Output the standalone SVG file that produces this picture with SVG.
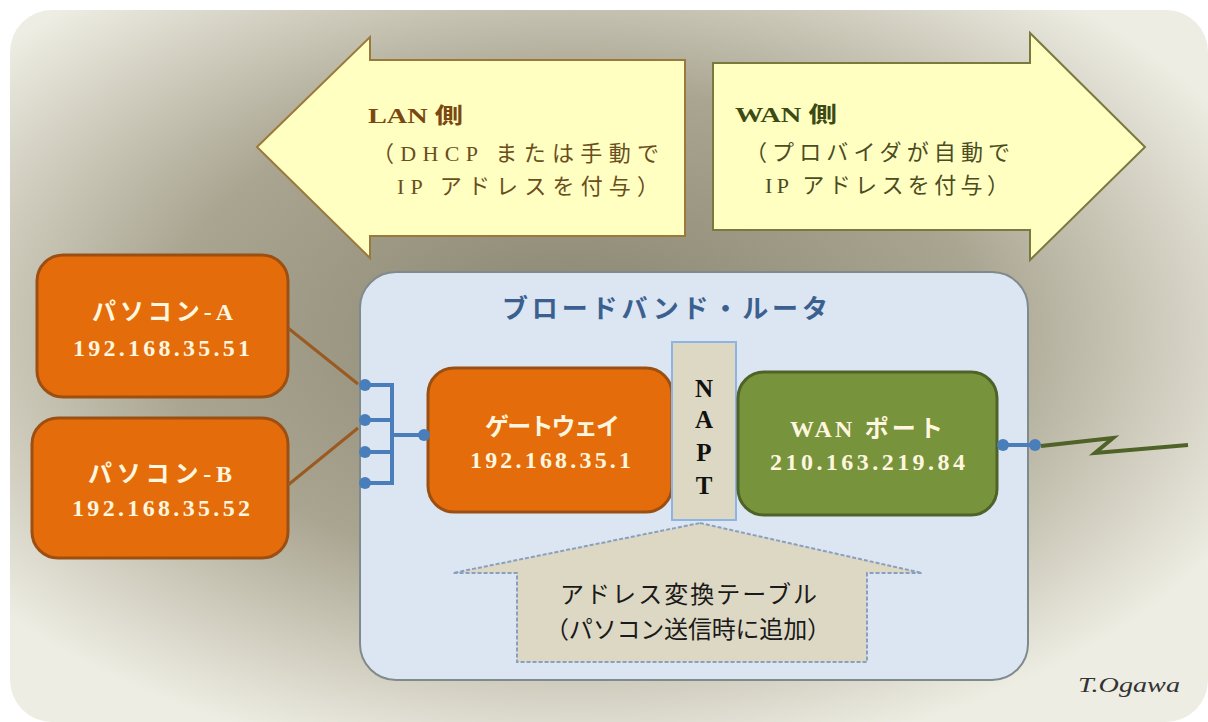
<svg xmlns="http://www.w3.org/2000/svg" width="1208" height="722" viewBox="0 0 1208 722">
<defs>
<radialGradient id="bg" cx="0.47" cy="0.45" r="0.62">
<stop offset="0" stop-color="#8b8672"/>
<stop offset="0.55" stop-color="#aaa591"/>
<stop offset="1" stop-color="#eeede3"/>
</radialGradient>
<style>
.jp{font-family:"Liberation Serif","Noto Sans CJK JP",serif;}
.box-or{fill:#e46c0a;stroke:#9c4f12;stroke-width:3;}
.box-gr{fill:#77933c;stroke:#4f6228;stroke-width:3;}
.wt{fill:#fff6df;font-weight:bold;font-size:24px;text-anchor:start;}
.blue{stroke:#4a7ebb;stroke-width:4;fill:none;}
.dot{fill:#4a7ebb;}
.brown{stroke:#9a5a20;stroke-width:3;fill:none;}
.napt{font-family:"Liberation Serif",serif;font-weight:bold;font-size:25px;fill:#111;text-anchor:middle;}
</style>
</defs>
<rect x="0" y="0" width="1208" height="722" fill="#ffffff"/>
<rect x="10" y="10" width="1198" height="712" rx="42" fill="url(#bg)"/>

<g id="lan-arrow">
<path d="M257,147 L370,37 L370,60 L685,60 L685,236 L370,236 L370,258 Z" fill="#ffffc2" stroke="#9a7a3c" stroke-width="2"/>
<text class="jp" x="368" y="123" font-size="22" font-weight="bold" fill="#7a4810" textLength="95" lengthAdjust="spacingAndGlyphs">LAN 側</text>
<text class="jp" x="372" y="161" font-size="22" fill="#6b4e1e" textLength="287" lengthAdjust="spacing">（DHCP または手動で</text>
<text class="jp" x="397" y="194" font-size="22" fill="#6b4e1e" textLength="262" lengthAdjust="spacing">IP アドレスを付与）</text>
</g>

<g id="wan-arrow">
<path d="M1145,147 L1030,33 L1030,63 L713,63 L713,230 L1030,230 L1030,260 Z" fill="#ffffc2" stroke="#7a7a40" stroke-width="2"/>
<text class="jp" x="735" y="122" font-size="22" font-weight="bold" fill="#3d4a14" textLength="102" lengthAdjust="spacingAndGlyphs">WAN 側</text>
<text class="jp" x="745" y="160" font-size="22" fill="#4c4c22" textLength="265" lengthAdjust="spacing">（プロバイダが自動で</text>
<text class="jp" x="765" y="193" font-size="22" fill="#4c4c22" textLength="244" lengthAdjust="spacing">IP アドレスを付与）</text>
</g>

<g id="router">
<rect x="360" y="272" width="668" height="408" rx="36" fill="#dce6f2" stroke="#7f8a8c" stroke-width="2"/>
<text class="jp" x="502" y="318" font-size="26" font-weight="bold" fill="#3b6090" textLength="326" lengthAdjust="spacing">ブロードバンド・ルータ</text>
</g>

<g id="pc-a">
<rect class="box-or" x="37" y="255" width="251" height="142" rx="26"/>
<text class="jp wt" x="92" y="320" textLength="141" lengthAdjust="spacing">パソコン-A</text>
<text class="jp wt" x="73" y="356" textLength="177" lengthAdjust="spacing">192.168.35.51</text>
</g>

<g id="pc-b">
<rect class="box-or" x="32" y="418" width="256" height="140" rx="26"/>
<text class="jp wt" x="88" y="482" textLength="144" lengthAdjust="spacing">パソコン-B</text>
<text class="jp wt" x="72" y="516" textLength="178" lengthAdjust="spacing">192.168.35.52</text>
</g>

<g id="gateway">
<rect class="box-or" x="428" y="368" width="244" height="144" rx="26"/>
<text class="jp wt" x="485" y="435" textLength="135" lengthAdjust="spacing">ゲートウェイ</text>
<text class="jp wt" x="470" y="468" textLength="161" lengthAdjust="spacing">192.168.35.1</text>
</g>

<g id="napt">
<rect x="672" y="342" width="64" height="178" fill="#ddd8c3" stroke="#8eb4e3" stroke-width="2"/>
<text class="napt" x="704" y="397">N</text>
<text class="napt" x="704" y="428">A</text>
<text class="napt" x="704" y="461">P</text>
<text class="napt" x="704" y="494">T</text>
</g>

<g id="wan-port">
<rect class="box-gr" x="738" y="372" width="259" height="143" rx="26"/>
<text class="jp wt" x="790" y="437" textLength="153" lengthAdjust="spacing">WAN ポート</text>
<text class="jp wt" x="770" y="470" textLength="195" lengthAdjust="spacing">210.163.219.84</text>
</g>

<g id="address-table">
<path d="M700,523 L922,573 L867,573 L867,662 L517,662 L517,573 L453,573 Z" fill="#ddd8c3" stroke="#8a9fbf" stroke-width="2" stroke-dasharray="4,2"/>
<text class="jp" x="560" y="603" font-size="24" fill="#1a1a1a" textLength="257" lengthAdjust="spacing">アドレス変換テーブル</text>
<text class="jp" x="545" y="638" font-size="24" fill="#1a1a1a" textLength="286" lengthAdjust="spacing">（パソコン送信時に追加）</text>
</g>

<g id="connectors">
<line class="brown" x1="288" y1="328" x2="358" y2="384"/>
<line class="brown" x1="288" y1="485" x2="358" y2="428"/>
<path class="blue" d="M365,385 H392 M365,420 H392 M365,452 H392 M365,483 H392 M392,383 V485 M392,435 H423"/>
<circle class="dot" cx="365" cy="385" r="6"/>
<circle class="dot" cx="365" cy="420" r="6"/>
<circle class="dot" cx="365" cy="452" r="6"/>
<circle class="dot" cx="365" cy="483" r="6"/>
<circle class="dot" cx="424" cy="435" r="6"/>
<path class="blue" d="M1003,445 H1035"/>
<circle class="dot" cx="1003" cy="445" r="6"/>
<circle class="dot" cx="1035" cy="445" r="6"/>
<path d="M1041,446 L1113,438 L1095,453 L1188,445" fill="none" stroke="#4f6228" stroke-width="4" stroke-linejoin="miter"/>
</g>

<text x="1078" y="692" font-family="Liberation Serif,serif" font-style="italic" font-size="21" fill="#333" textLength="102" lengthAdjust="spacingAndGlyphs">T.Ogawa</text>
</svg>
